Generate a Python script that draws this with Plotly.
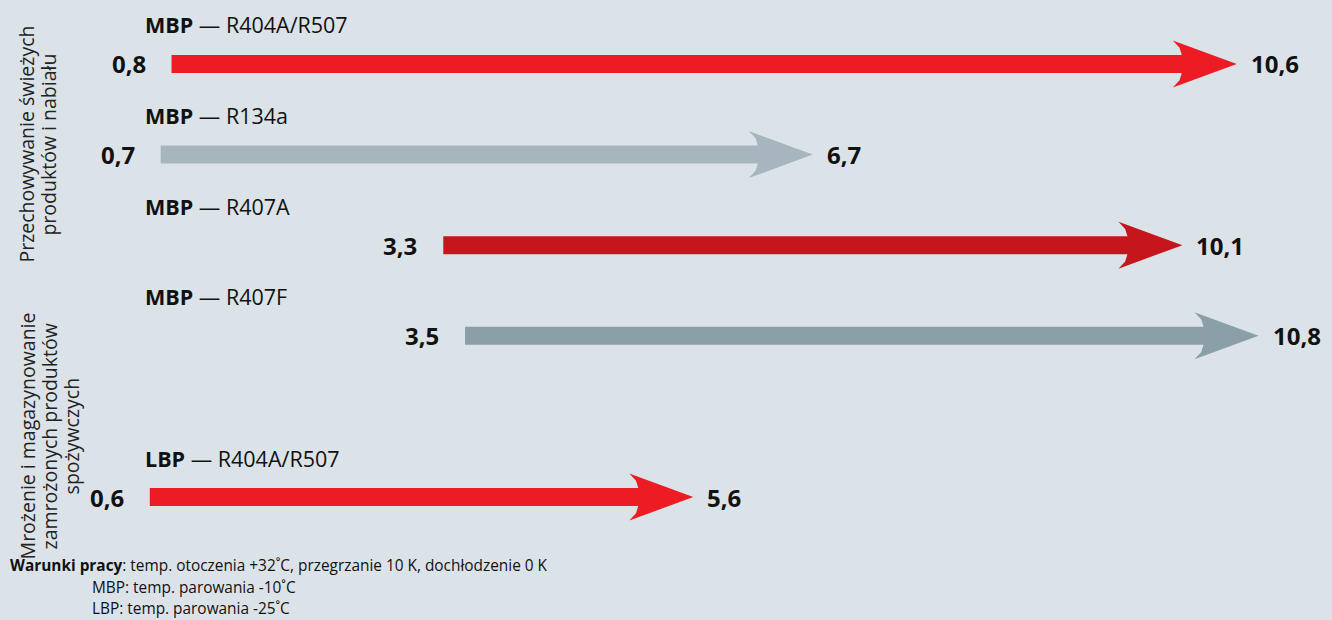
import plotly.graph_objects as go

# ---- data ----
unit_types = ["MBP", "MBP", "MBP", "MBP", "LBP"]
refrigerants = ["R404A/R507", "R134a", "R407A", "R407F", "R404A/R507"]
low_values = [0.8, 0.7, 3.3, 3.5, 0.6]
high_values = [10.6, 6.7, 10.1, 10.8, 5.6]
groups = [0, 0, 0, 1, 1]
group_lines = [
    ["Przechowywanie świeżych", "produktów i nabiału"],
    ["Mrożenie i magazynowanie", "zamrożonych produktów", "spożywczych"],
]
value_labels_low = ["0,8", "0,7", "3,3", "3,5", "0,6"]
value_labels_high = ["10,6", "6,7", "10,1", "10,8", "5,6"]
footer_lines = [
    "<b>Warunki pracy</b>: temp. otoczenia +32˚C, przegrzanie 10 K, dochłodzenie 0 K",
    "MBP: temp. parowania -10˚C",
    "LBP: temp. parowania -25˚C",
]

# ---- styles ----
colors = ["#ed1c24", "#a6b5be", "#c4161c", "#8b9fa9", "#ed1c24"]
BG = "#dce3e8"
FONT = "Open Sans, Arial, sans-serif"
W, H = 1332, 620
X_RANGE = [-0.778, 11.476]
ROW_GAP_EXTRA = 0.78          # extra spacing where the unit type changes (MBP -> LBP)
Y_RANGE = [6.137, -0.706]
px_per_x = W / (X_RANGE[1] - X_RANGE[0])
px_per_y = H / (Y_RANGE[0] - Y_RANGE[1])

SHAFT_HALF = 9 / px_per_y
HEAD_HALF = 23.5 / px_per_y
HEAD_LEN = 64 / px_per_x
NOTCH = 9 / px_per_x

# row positions: index plus a gap at each unit-type change
rows = []
gap = 0.0
for i, u in enumerate(unit_types):
    if i > 0 and u != unit_types[i - 1]:
        gap += ROW_GAP_EXTRA
    rows.append(i + gap)

fig = go.Figure()
for lo, hi, yc, col in zip(low_values, high_values, rows, colors):
    back = hi - HEAD_LEN
    mid = (SHAFT_HALF + HEAD_HALF) / 2
    xs = [lo, back + NOTCH, back + NOTCH * 0.75, back, hi, back, back + NOTCH * 0.75, back + NOTCH, lo, lo]
    ys = [yc - SHAFT_HALF, yc - SHAFT_HALF, yc - mid, yc - HEAD_HALF, yc, yc + HEAD_HALF,
          yc + mid, yc + SHAFT_HALF, yc + SHAFT_HALF, yc - SHAFT_HALF]
    fig.add_trace(go.Scatter(x=xs, y=ys, mode="lines", fill="toself", fillcolor=col,
                             line=dict(width=0, color=col), hoverinfo="skip", showlegend=False))

annotations = []
for i, yc in enumerate(rows):
    annotations.append(dict(x=low_values[i], y=yc, xref="x", yref="y", xanchor="right", yanchor="middle",
                            xshift=-24, text="<b>%s</b>" % value_labels_low[i], showarrow=False,
                            font=dict(family=FONT, size=24, color="#111111")))
    annotations.append(dict(x=high_values[i], y=yc, xref="x", yref="y", xanchor="left", yanchor="middle",
                            xshift=12, text="<b>%s</b>" % value_labels_high[i], showarrow=False,
                            font=dict(family=FONT, size=24, color="#111111")))
    annotations.append(dict(x=143 / W, y=yc, xref="paper", yref="y", xanchor="left", yanchor="middle",
                            yshift=39, text="<b>%s</b> — %s" % (unit_types[i], refrigerants[i]),
                            showarrow=False, font=dict(family=FONT, size=21.5, color="#111111")))

group_line_x = [[27, 49], [27, 49, 71]]
group_yshift = [10, -20]
for g, lines in enumerate(group_lines):
    gr = [r for r, gg in zip(rows, groups) if gg == g]
    for j, line in enumerate(lines):
        annotations.append(dict(x=group_line_x[g][j] / W, y=sum(gr) / len(gr), xref="paper", yref="y",
                                xanchor="center", yanchor="middle", yshift=group_yshift[g],
                                text=line, textangle=-90, showarrow=False,
                                font=dict(family=FONT, size=19.5, color="#222222")))

footer_x = [8 / W, 90 / W, 90 / W]
footer_y = [565, 587, 608]
for txt, fx, fy in zip(footer_lines, footer_x, footer_y):
    annotations.append(dict(x=fx, y=1 - fy / H, xref="paper", yref="paper", xanchor="left", yanchor="middle",
                            text=txt, showarrow=False, font=dict(family=FONT, size=15.4, color="#111111")))

fig.update_layout(
    width=W, height=H, margin=dict(l=0, r=0, t=0, b=0),
    paper_bgcolor=BG, plot_bgcolor=BG,
    xaxis=dict(range=X_RANGE, visible=False, fixedrange=True),
    yaxis=dict(range=Y_RANGE, visible=False, fixedrange=True),
    annotations=annotations, showlegend=False,
)
fig.write_html("out.html", config={"displayModeBar": False})
